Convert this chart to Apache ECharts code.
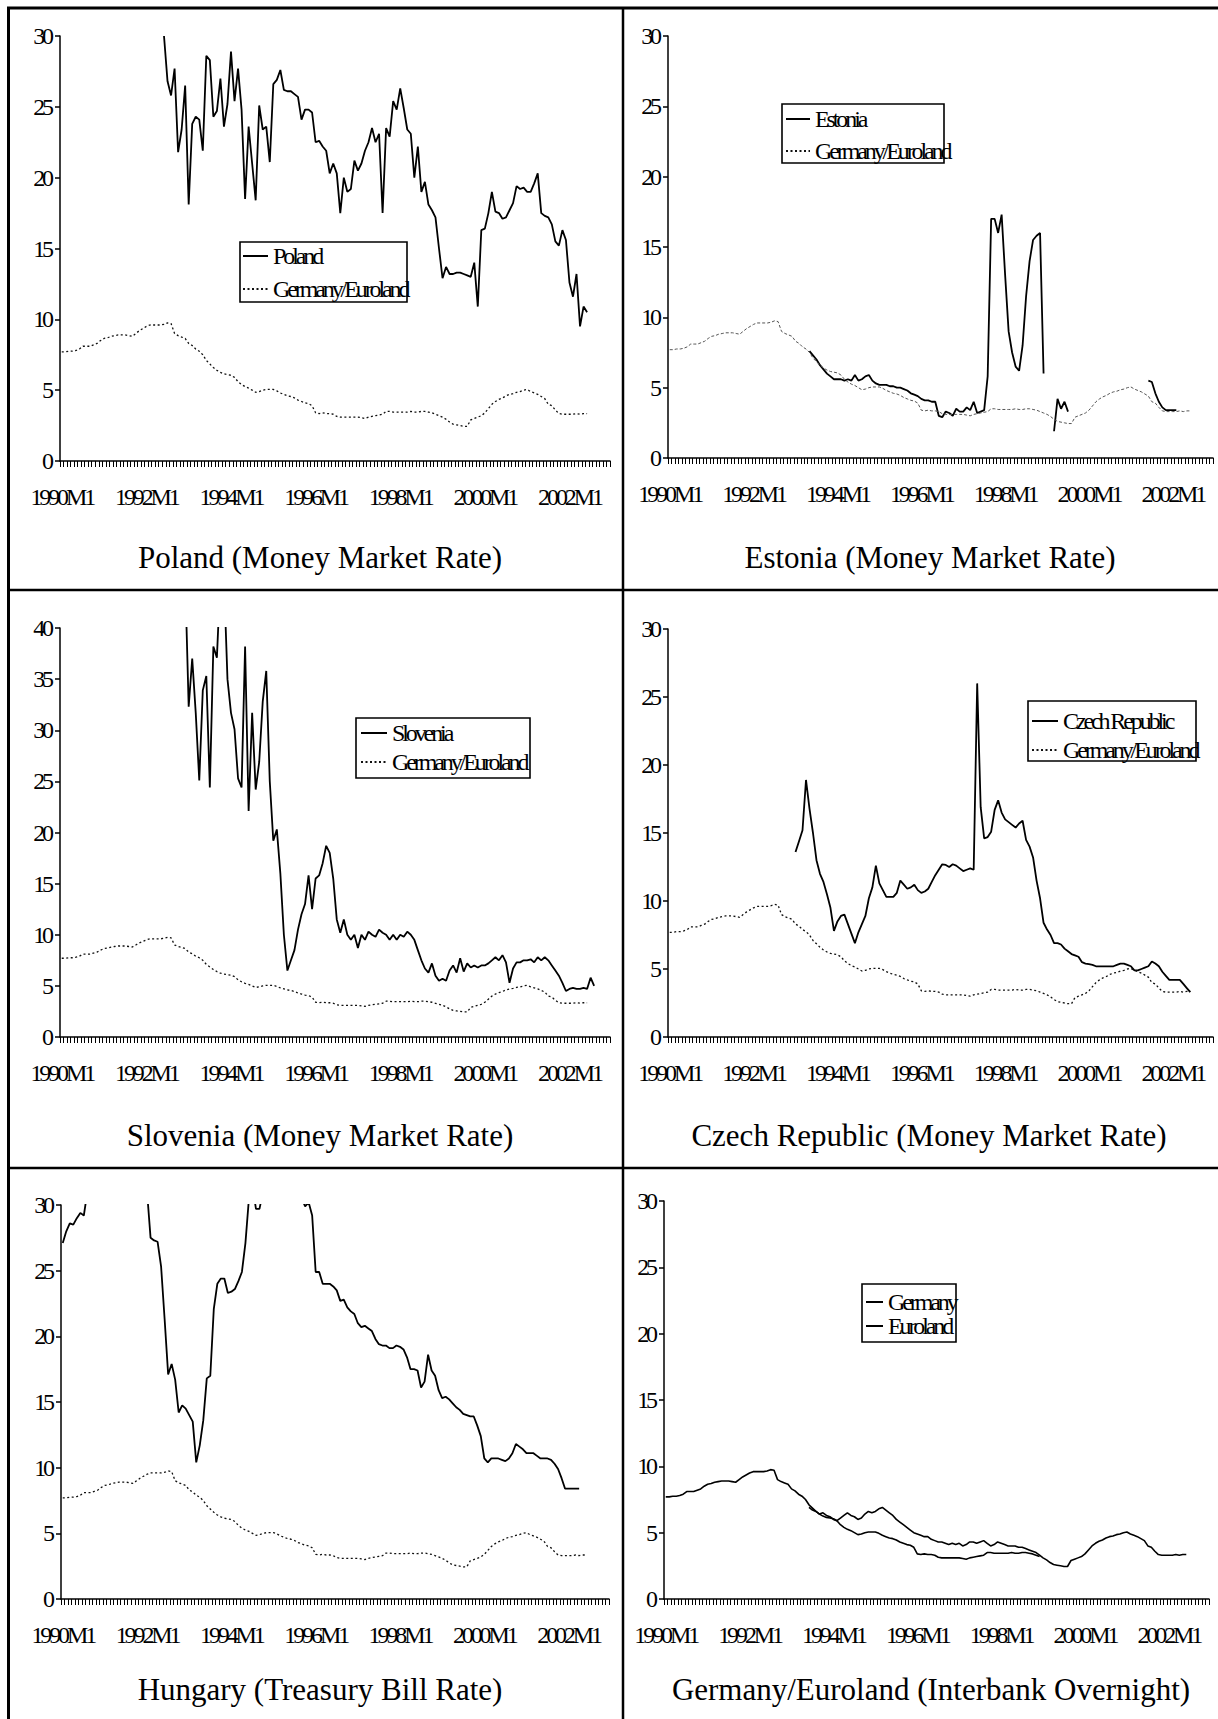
<!DOCTYPE html>
<html><head><meta charset="utf-8">
<script src="https://cdn.jsdelivr.net/npm/echarts@6/dist/echarts.min.js"></script>
<style>
html,body{margin:0;padding:0;background:#fff;}
#c{width:1218px;height:1719px;}
#c svg text[style*="24px"]{letter-spacing:-3.1px;}
</style></head><body><div id="c"></div>
<script>
// ---------- categories ----------
const months = [];
for (let y = 1990; y <= 2002; y++) for (let m = 1; m <= 12; m++) months.push(y + 'M' + m);

// ---------- data (monthly, % p.a.) ----------
// Germany (1990M1 - 1998M12)
const germanyRate = [
 7.7,7.7,7.75,7.75,7.8,7.9,8.1,8.1,8.1,8.2,8.3,8.5,
 8.65,8.7,8.8,8.85,8.9,8.9,8.9,8.85,8.8,9.0,9.2,9.35,
 9.5,9.6,9.6,9.6,9.6,9.65,9.75,9.7,9.0,8.85,8.75,8.65,
 8.3,8.15,7.9,7.75,7.5,7.1,6.85,6.6,6.4,6.25,6.15,6.1,
 6.05,5.9,5.6,5.4,5.25,5.15,5.0,4.85,4.9,5.0,5.05,5.05,
 5.05,4.95,4.8,4.7,4.6,4.55,4.45,4.3,4.2,4.1,4.05,3.9,
 3.4,3.35,3.4,3.35,3.35,3.3,3.15,3.1,3.1,3.1,3.1,3.1,
 3.1,3.05,3.0,3.1,3.15,3.2,3.25,3.3,3.5,3.5,3.45,3.45,
 3.45,3.45,3.45,3.5,3.45,3.45,3.5,3.5,3.45,3.4,3.3,3.2
];
// Euroland (1993M6 - 2002M6)
const eurolandStart = '1993M6';
const eurolandRate = [
 6.9,6.7,6.6,6.4,6.5,6.3,6.2,
 6.0,5.9,6.1,6.3,6.5,6.3,6.2,6.0,6.1,6.4,6.6,6.5,
 6.6,6.8,6.9,6.7,6.5,6.3,6.0,5.8,5.6,5.4,5.2,5.0,
 4.9,4.8,4.7,4.7,4.5,4.4,4.3,4.3,4.2,4.1,4.2,4.1,
 4.2,4.0,4.1,4.3,4.3,4.2,4.3,4.4,4.2,4.0,4.1,4.3,
 4.2,4.1,4.0,4.0,4.0,3.9,3.9,3.8,3.7,3.6,3.5,3.3,
 3.1,2.95,2.75,2.6,2.55,2.5,2.45,2.45,2.9,3.0,3.1,3.2,
 3.4,3.7,4.0,4.2,4.35,4.45,4.6,4.7,4.75,4.85,4.9,5.0,
 5.05,4.9,4.8,4.7,4.55,4.4,4.0,3.9,3.6,3.35,3.3,3.3,
 3.3,3.3,3.35,3.3,3.35,3.35
];
// Poland (1992M6 - 2002M6)
const polandStart = '1992M6';
const polandRate = [
 30.0,26.8,25.8,27.7,21.8,23.4,26.5,18.1,23.8,24.3,
 24.1,21.9,28.6,28.3,24.3,24.7,27.0,23.6,25.2,28.9,
 25.4,27.7,24.8,18.5,23.6,21.0,18.4,25.1,23.4,23.6,
 21.1,26.6,26.9,27.6,26.2,26.1,26.1,25.9,25.7,24.1,
 24.8,24.8,24.6,22.5,22.6,22.2,21.9,20.3,21.0,20.3,
 17.5,20.0,19.0,19.2,21.2,20.5,21.0,21.9,22.5,23.5,
 22.5,23.1,17.5,23.5,22.9,25.4,24.8,26.3,24.9,23.4,
 23.1,20.0,22.2,19.0,19.7,18.1,17.7,17.2,15.0,12.9,
 13.7,13.2,13.2,13.3,13.3,13.2,13.1,13.0,14.0,10.9,
 16.3,16.4,17.5,19.0,17.6,17.5,17.1,17.2,17.7,18.2,
 19.4,19.2,19.3,19.0,19.0,19.6,20.3,17.5,17.3,17.2,
 16.7,15.5,15.2,16.3,15.6,12.6,11.6,13.2,9.5,10.9,
 10.5
];
// Estonia (1993M5 - 2002M2), null = not available
const estoniaStart = '1993M5';
const estoniaRate = [
 7.6,7.3,7.0,6.6,6.3,6.0,5.8,5.6,5.6,5.6,
 5.5,5.6,5.5,5.9,5.5,5.6,5.8,5.9,5.5,5.3,
 5.2,5.2,5.2,5.1,5.1,5.0,5.0,4.9,4.8,4.6,
 4.5,4.4,4.2,4.1,4.1,4.0,4.0,3.0,2.9,3.3,
 3.2,3.0,3.5,3.3,3.3,3.6,3.4,4.0,3.2,3.3,
 3.4,5.8,17.0,17.0,16.0,17.3,13.0,9.0,7.5,6.5,
 6.2,8.0,11.5,14.0,15.5,15.8,16.0,6.0,null,null,
 1.9,4.2,3.5,4.0,3.3,null,null,null,null,null,
 null,null,null,null,null,null,null,null,null,null,
 null,null,null,null,null,null,null,5.5,5.4,4.6,
 4.0,3.6,3.4,3.4,3.4,3.4
];
// Slovenia (1992M12 - 2002M8)
const sloveniaStart = '1992M12';
const sloveniaRate = [
 45,32.3,37,31.7,25.1,33.9,35.3,24.4,38.2,37.1,
 45,45,35,31.7,30.1,25.3,24.4,38.2,22.1,31.7,
 24.2,26.9,32.8,35.8,25,19.2,20.3,16,10,6.5,
 7.5,8.5,10.5,12,13,15.8,12.5,15.5,15.8,17,
 18.7,18,15.5,11.5,10.2,11.5,10,9.5,10,8.7,
 10,9.5,10.3,10,9.8,10.5,10.2,10,9.5,10,9.5,
 10.0,9.8,10.3,10.0,9.5,8.5,7.5,6.7,6.3,7.2,
 6.0,5.5,5.7,5.5,6.5,7.0,6.3,7.7,6.4,7.2,
 6.8,7.0,6.8,7.0,7.0,7.2,7.5,7.8,7.5,8.0,
 7.3,5.3,6.7,7.3,7.3,7.5,7.5,7.6,7.3,7.8,
 7.5,7.8,7.5,7.0,6.5,6.0,5.3,4.5,4.7,4.8,
 4.7,4.7,4.8,4.7,5.8,5.0
];
// Czech Republic (1993M1 - 2002M6)
const czechStart = '1993M1';
const czechRate = [
 13.6,14.4,15.2,18.9,16.8,15.0,13.0,12.0,11.4,10.5,
 9.5,7.8,8.5,8.9,9.0,8.3,7.6,6.9,7.7,8.3,
 8.9,10.2,11.0,12.6,11.3,10.8,10.3,10.3,10.3,10.6,
 11.5,11.2,10.9,11.0,11.2,10.8,10.6,10.7,10.9,11.4,
 11.9,12.3,12.7,12.65,12.5,12.7,12.6,12.4,12.2,12.3,
 12.4,12.3,26.0,16.9,14.6,14.7,15.1,16.7,17.4,16.5,
 16.0,15.8,15.6,15.4,15.7,15.9,14.5,14.0,13.2,11.5,
 10.2,8.4,7.9,7.5,6.9,6.9,6.8,6.5,6.3,6.1,
 6.0,5.9,5.5,5.4,5.35,5.3,5.2,5.2,5.2,5.2,
 5.2,5.2,5.3,5.4,5.4,5.3,5.2,4.9,4.9,5.0,
 5.1,5.2,5.55,5.4,5.2,4.8,4.5,4.2,4.2,4.2,
 4.2,3.9,3.6,3.3
];
// Hungary treasury bill rate (1990M1 - 2002M4)
const hungaryRate = [
 27.1,28.0,28.6,28.5,29.0,29.4,29.2,31.0,32.0,33.0,
 34.0,35.0,35.0,35.0,35.0,34.0,34.0,34.0,34.0,33.0,
 33.0,33.0,32.0,32.0,31.0,27.5,27.3,27.2,25.3,21.3,
 17.1,17.9,16.7,14.2,14.75,14.5,14.0,13.5,10.4,11.7,
 13.6,16.8,17.0,22.1,24.0,24.4,24.4,23.3,23.4,23.6,
 24.2,24.9,27.1,30.5,31.5,29.7,29.7,31.0,33.0,34.0,
 34.0,33.0,33.0,32.0,32.0,32.0,31.0,31.0,30.5,29.9,
 30.2,29.2,24.9,24.9,24.0,24.0,24.0,23.8,23.5,22.7,
 22.8,22.2,21.9,21.7,21.0,20.7,20.8,20.6,20.4,19.8,
 19.4,19.3,19.3,19.1,19.1,19.3,19.2,19.0,18.4,17.5,
 17.5,17.4,16.1,16.55,18.6,17.4,17.0,15.9,15.3,15.4,
 15.2,14.9,14.6,14.4,14.1,14.0,13.9,13.9,13.2,12.4,
 10.7,10.4,10.7,10.7,10.7,10.6,10.5,10.7,11.1,11.8,
 11.6,11.4,11.1,11.1,11.1,10.9,10.7,10.7,10.7,10.6,
 10.3,9.9,9.2,8.4,8.4,8.4,8.4,8.4
];

const captions = [
 'Poland (Money Market Rate)', 'Estonia (Money Market Rate)',
 'Slovenia (Money Market Rate)', 'Czech Republic (Money Market Rate)',
 'Hungary (Treasury Bill Rate)', 'Germany/Euroland (Interbank Overnight)'
];
const yMax = [30, 30, 40, 30, 30, 30];

// ---------- helpers ----------
function place(start, values) {
  const i0 = months.indexOf(start);
  const out = months.map(() => null);
  values.forEach((v, k) => { out[i0 + k] = v; });
  return out;
}
const germanyData = place('1990M1', germanyRate);
const eurolandData = place(eurolandStart, eurolandRate);
// Germany until 1998M12, Euroland afterwards
const cut = months.indexOf('1999M1');
const geData = months.map((m, i) => i < cut ? germanyData[i] : eurolandData[i]);

// ---------- layout ----------
const layout = [
 {grid:{left:60, top:36, width:550, height:425}, cap:[320,557], leg:{left:242, top:244, itemWidth:25, itemGap:9}, box:[240,242,167,60]},
 {grid:{left:668, top:36, width:545, height:422}, cap:[930,557], leg:{left:785, top:107, itemWidth:24, itemGap:8}, box:[782,104,162,59]},
 {grid:{left:60, top:628, width:550, height:409}, cap:[320,1135], leg:{left:360, top:721, itemWidth:26, itemGap:5}, box:[356,718,174,60]},
 {grid:{left:668, top:629, width:545, height:408}, cap:[929,1135], leg:{left:1031, top:709, itemWidth:26, itemGap:5}, box:[1028,701,168,60]},
 {grid:{left:61, top:1205, width:548, height:394}, cap:[320,1689], leg:null, box:null},
 {grid:{left:664, top:1201, width:545, height:398}, cap:[931,1689], leg:{left:865, top:1290, itemWidth:17, itemGap:0}, box:[862,1284,94,58]}
];

const solid = {color:'#000', width:1.8, type:'solid'};
const dotted = {color:'#111', width:1.3, type:[2,2.5]};
const dottedLight = {color:'#555', width:1, type:[3,2]};

const panelSeries = [
 [{name:'Poland', data:place(polandStart, polandRate), ls:solid}, {name:'Germany/Euroland', data:geData, ls:dotted}],
 [{name:'Estonia', data:place(estoniaStart, estoniaRate), ls:solid}, {name:'Germany/Euroland', data:geData, ls:dottedLight}],
 [{name:'Slovenia', data:place(sloveniaStart, sloveniaRate), ls:solid}, {name:'Germany/Euroland', data:geData, ls:dotted}],
 [{name:'Czech Republic', data:place(czechStart, czechRate), ls:solid}, {name:'Germany/Euroland', data:geData, ls:dotted}],
 [{name:'Hungary', data:place('1990M1', hungaryRate), ls:solid}, {name:'Germany/Euroland', data:geData, ls:dotted}],
 [{name:'Germany', data:germanyData, ls:{color:'#000', width:1.6, type:'solid'}}, {name:'Euroland', data:eurolandData, ls:{color:'#000', width:1.6, type:'solid'}}]
];

const FONT = 'Liberation Serif';
const grids = [], xAxes = [], yAxes = [], series = [], legends = [], graphics = [];

layout.forEach((L, i) => {
  grids.push(Object.assign({outerBoundsMode:'none', containLabel:false}, L.grid));
  xAxes.push({
    type:'category', gridIndex:i, data:months, boundaryGap:true,
    axisLine:{show:true, lineStyle:{color:'#000', width:1.5}},
    axisTick:{show:true, interval:0, length:6, lineStyle:{color:'#000', width:1}},
    axisLabel:{interval:(idx) => idx % 24 === 0, showMinLabel:true, showMaxLabel:true, hideOverlap:false,
      margin:24, fontFamily:FONT, fontSize:24, color:'#000'},
    splitLine:{show:false}
  });
  yAxes.push({
    type:'value', gridIndex:i, min:0, max:yMax[i], interval:5,
    axisLine:{show:true, lineStyle:{color:'#000', width:1.5}},
    axisTick:{show:true, length:5, lineStyle:{color:'#000', width:1.5}},
    axisLabel:{margin:9, fontFamily:FONT, fontSize:24, color:'#000', showMinLabel:true, showMaxLabel:true},
    splitLine:{show:false}
  });
  panelSeries[i].forEach(s => {
    series.push({
      type:'line', name:s.name, xAxisIndex:i, yAxisIndex:i, data:s.data,
      showSymbol:false, symbol:'none', connectNulls:false, clip:true,
      lineStyle:s.ls, itemStyle:{color:s.ls.color}, emphasis:{disabled:true}, z:3
    });
  });
  if (L.leg) {
    legends.push({
      orient:'vertical', left:L.leg.left, top:L.leg.top, itemWidth:L.leg.itemWidth, itemHeight:12,
      itemGap:L.leg.itemGap, padding:0, selectedMode:false,
      itemStyle:{opacity:0},
      data:panelSeries[i].map(s => s.name),
      textStyle:{fontFamily:FONT, fontSize:24, color:'#000'}
    });
  }
  if (L.box) {
    graphics.push({type:'rect', shape:{x:L.box[0], y:L.box[1], width:L.box[2], height:L.box[3]},
      style:{fill:'none', stroke:'#000', lineWidth:1.6}, z:10});
  }
  graphics.push({type:'text', x:L.cap[0], y:L.cap[1],
    style:{text:captions[i], fontFamily:FONT, fontSize:31, fill:'#000', align:'center', verticalAlign:'middle'}});
});

// panel frame lines
graphics.push(
 {type:'line', shape:{x1:7, y1:8, x2:1218, y2:8}, style:{stroke:'#000', lineWidth:3}},
 {type:'line', shape:{x1:8.5, y1:7, x2:8.5, y2:1719}, style:{stroke:'#000', lineWidth:3}},
 {type:'line', shape:{x1:623, y1:8, x2:623, y2:1719}, style:{stroke:'#000', lineWidth:2.5}},
 {type:'line', shape:{x1:8, y1:590, x2:1218, y2:590}, style:{stroke:'#000', lineWidth:2.5}},
 {type:'line', shape:{x1:8, y1:1168, x2:1218, y2:1168}, style:{stroke:'#000', lineWidth:2.5}}
);

const chart = echarts.init(document.getElementById('c'), null, {renderer:'svg', width:1218, height:1719});
chart.setOption({
  animation:false,
  backgroundColor:'#fff',
  grid:grids, xAxis:xAxes, yAxis:yAxes, series:series, legend:legends,
  graphic:graphics, tooltip:{show:false}
});
</script></body></html>
